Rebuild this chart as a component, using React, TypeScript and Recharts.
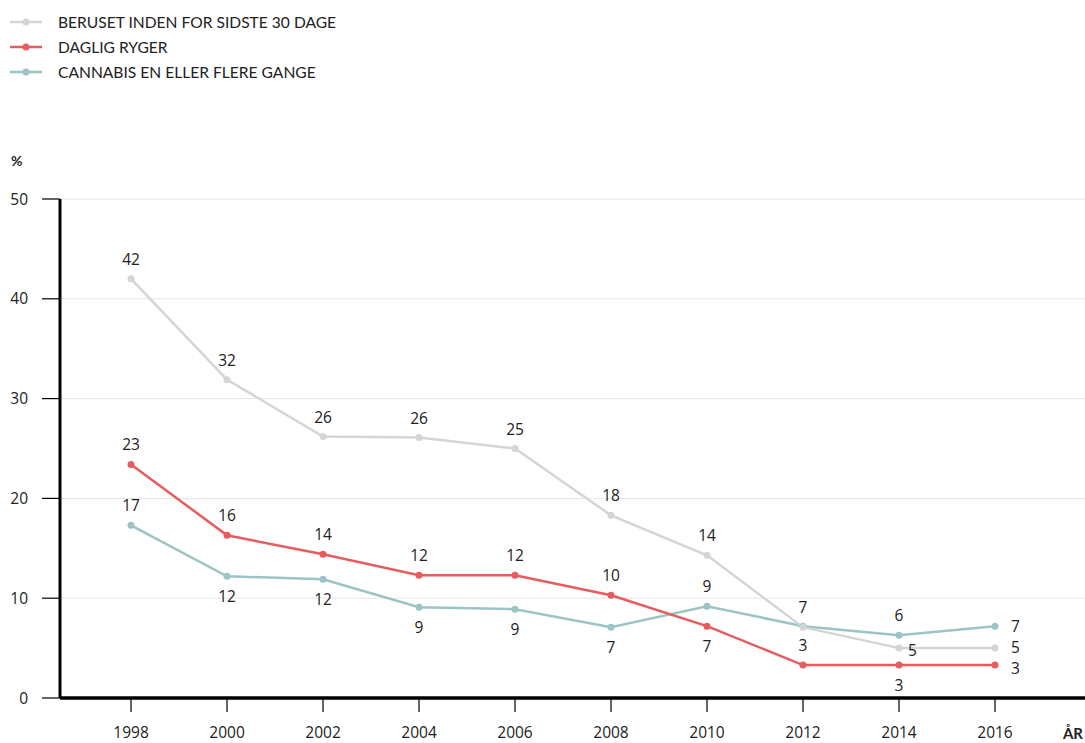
import React from "react";
import { LineChart, Line, XAxis, YAxis, CartesianGrid, LabelList } from "recharts";

const years = [1998, 2000, 2002, 2004, 2006, 2008, 2010, 2012, 2014, 2016];
const beruset = [42, 31.9, 26.2, 26.1, 25.0, 18.3, 14.3, 7.1, 5.0, 5.0];
const daglig = [23.4, 16.3, 14.4, 12.3, 12.3, 10.3, 7.2, 3.3, 3.3, 3.3];
const cannabis = [17.3, 12.2, 11.9, 9.1, 8.9, 7.1, 9.2, 7.2, 6.3, 7.2];
const yTicks = [0, 10, 20, 30, 40, 50];

const seriesNames = [
  "BERUSET INDEN FOR SIDSTE 30 DAGE",
  "DAGLIG RYGER",
  "CANNABIS EN ELLER FLERE GANGE",
];

// label placement per point
const berusetPos = ["top", "top", "top", "top", "top", "top", "top", "top", "right5", "righthigh"];
const dagligPos = ["top", "top", "top", "top", "top", "top", "bottom", "top", "bottom", "rightlow"];
const cannabisPos = ["top", "bottom", "bottom", "bottom", "bottom", "bottom", "top", "none", "top", "right"];

const GRAY = "#d5d5d5";
const RED = "#e65c5f";
const TEAL = "#9cc4c4";
const TEXT = "#222";

const data = years.map((y, i) => ({
  year: y,
  beruset: beruset[i],
  daglig: daglig[i],
  cannabis: cannabis[i],
}));

const makeLabel = (positions: string[]) => (props: any) => {
  const { x, y, value, index } = props;
  const pos = positions[index];
  if (pos === "none") return null;
  let tx = x;
  let ty = y;
  let anchor: "middle" | "start" = "middle";
  if (pos === "top") ty = y - 20;
  else if (pos === "bottom") ty = y + 20;
  else if (pos === "right") {
    tx = x + 16;
    anchor = "start";
  } else if (pos === "rightlow") {
    tx = x + 16;
    ty = y + 3;
    anchor = "start";
  } else if (pos === "righthigh") {
    tx = x + 16;
    ty = y - 1;
    anchor = "start";
  } else if (pos === "right5") {
    tx = x + 9;
    ty = y + 2;
    anchor = "start";
  }
  return (
    <text
      x={tx}
      y={ty}
      textAnchor={anchor}
      dominantBaseline="central"
      fontSize={15.5}
      fontFamily="'Open Sans', sans-serif"
      fill={TEXT}
    >
      {Math.round(value)}
    </text>
  );
};

const legendColors = [GRAY, RED, TEAL];

export default function App() {
  return (
    <div style={{ position: "absolute", left: 0, top: 0, width: 1085, height: 743, background: "#fff" }}>
      <div style={{ position: "absolute", left: 0, top: 0 }}>
        {seriesNames.map((n, i) => (
          <div
            key={n}
            style={{
              position: "absolute",
              left: 10,
              top: 12 + i * 25,
              height: 20,
              display: "flex",
              alignItems: "center",
              whiteSpace: "nowrap",
            }}
          >
            <svg width={34} height={20} style={{ display: "block" }}>
              <line x1={0} y1={10} x2={32} y2={10} stroke={legendColors[i]} strokeWidth={2.5} />
              <circle cx={16} cy={10} r={3.5} fill={legendColors[i]} />
            </svg>
            <span
              style={{
                marginLeft: 14,
                fontFamily: "Lato, sans-serif",
                fontSize: 15.6,
                color: TEXT,
              }}
            >
              {n}
            </span>
          </div>
        ))}
      </div>
      <div
        style={{
          position: "absolute",
          left: 11,
          top: 152,
          fontFamily: "Lato, sans-serif",
          fontWeight: 700,
          fontSize: 14,
          color: TEXT,
        }}
      >
        %
      </div>
      <div
        style={{
          position: "absolute",
          right: 2,
          top: 724,
          fontFamily: "Lato, sans-serif",
          fontWeight: 700,
          fontSize: 15,
          color: TEXT,
        }}
      >
        ÅR
      </div>
      <LineChart
        width={1085}
        height={743}
        data={data}
        margin={{ top: 199, right: 0, bottom: 0, left: 0 }}
        style={{ position: "absolute", left: 0, top: 0 }}
      >
        <CartesianGrid horizontal={true} vertical={false} stroke="#e6e6e6" strokeWidth={1} />
        <XAxis
          dataKey="year"
          type="number"
          domain={[1996.52, 2017.875]}
          ticks={years}
          allowDataOverflow
          height={45}
          axisLine={{ stroke: "#000", strokeWidth: 3.5 }}
          tickLine={{ stroke: "#000", strokeWidth: 1.2 }}
          tickSize={14}
          tickMargin={15}
          tick={{ fill: TEXT, fontSize: 15.5, fontFamily: "'Open Sans', sans-serif" }}
        />
        <YAxis
          domain={[0, 50]}
          ticks={yTicks}
          width={60}
          axisLine={{ stroke: "#000", strokeWidth: 3 }}
          tickLine={{ stroke: "#000", strokeWidth: 1.2 }}
          tickSize={18}
          tickMargin={14}
          tick={{ fill: TEXT, fontSize: 15.5, fontFamily: "'Open Sans', sans-serif" }}
        />
        <Line
          dataKey="cannabis"
          stroke={TEAL}
          strokeWidth={2.5}
          dot={{ r: 3.5, fill: TEAL, stroke: TEAL, strokeWidth: 0 }}
          activeDot={false}
          isAnimationActive={false}
        >
          <LabelList dataKey="cannabis" content={makeLabel(cannabisPos)} />
        </Line>
        <Line
          dataKey="daglig"
          stroke={RED}
          strokeWidth={2.5}
          dot={{ r: 3.5, fill: RED, stroke: RED, strokeWidth: 0 }}
          activeDot={false}
          isAnimationActive={false}
        >
          <LabelList dataKey="daglig" content={makeLabel(dagligPos)} />
        </Line>
        <Line
          dataKey="beruset"
          stroke={GRAY}
          strokeWidth={2.5}
          dot={{ r: 3.5, fill: GRAY, stroke: GRAY, strokeWidth: 0 }}
          activeDot={false}
          isAnimationActive={false}
        >
          <LabelList dataKey="beruset" content={makeLabel(berusetPos)} />
        </Line>
      </LineChart>
    </div>
  );
}
